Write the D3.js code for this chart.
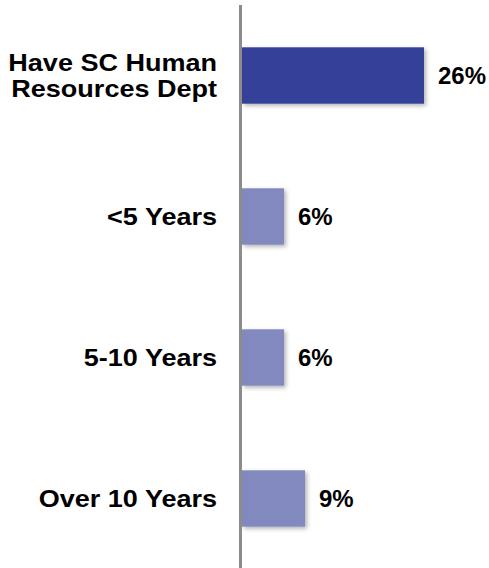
<!DOCTYPE html>
<html>
<head>
<meta charset="utf-8">
<script src="https://cdn.jsdelivr.net/npm/d3@7"></script>
<style>
  body { margin: 0; background: #fff; }
  text { font-family: "Liberation Sans", Arial, sans-serif; font-weight: bold; fill: #000; }
</style>
</head>
<body>
<svg id="chart" width="489" height="568"></svg>
<script>
// chart data
var categories = [["Have SC Human", "Resources Dept"], ["<5 Years"], ["5-10 Years"], ["Over 10 Years"]];
var values = [26, 6, 6, 9];
var valueLabels = ["26%", "6%", "6%", "9%"];

var svg = d3.select("#chart"),
    width = +svg.attr("width"),
    height = +svg.attr("height");

var axisX = 240.5;

var defs = svg.append("defs");
var f = defs.append("filter")
    .attr("id", "shadow")
    .attr("x", "-10%").attr("y", "-20%")
    .attr("width", "130%").attr("height", "150%");
f.append("feDropShadow")
    .attr("dx", 2).attr("dy", 2)
    .attr("stdDeviation", 2)
    .attr("flood-color", "#000")
    .attr("flood-opacity", 0.3);

var y = d3.scaleBand()
    .domain(d3.range(categories.length))
    .range([5, 569])
    .paddingInner(0.6)
    .paddingOuter(0.3);

var x = d3.scaleLinear()
    .domain([0, 30])
    .range([axisX + 1.5, axisX + 1.5 + 210]);

function barColor(i) { return i === 0 ? "#343f98" : "#8189be"; }

svg.append("g")
  .selectAll("rect")
  .data(values)
  .enter().append("rect")
    .attr("x", x(0))
    .attr("y", function(d, i) { return y(i); })
    .attr("width", function(d) { return x(d) - x(0); })
    .attr("height", y.bandwidth())
    .attr("fill", function(d, i) { return barColor(i); })
    .attr("filter", "url(#shadow)");

// vertical axis line
svg.append("line")
    .attr("x1", axisX).attr("x2", axisX)
    .attr("y1", 5).attr("y2", height)
    .attr("stroke", "#8c8c8c")
    .attr("stroke-width", 3);

// value labels
svg.append("g")
  .selectAll("text")
  .data(values)
  .enter().append("text")
    .attr("x", function(d) { return x(d) + 14; })
    .attr("y", function(d, i) { return y(i) + y.bandwidth() / 2 + 8.5; })
    .style("font-size", "24px")
    .text(function(d, i) { return valueLabels[i]; });

// category labels, a bit wider than the font
var labelRight = 217, stretch = 1.15, lineGap = 27;
var cat = svg.append("g")
  .selectAll("text")
  .data(categories)
  .enter().append("text")
    .attr("transform", function(d, i) {
      var cy = y(i) + y.bandwidth() / 2 + 8.5 - (d.length - 1) * lineGap / 2;
      return "translate(" + labelRight + "," + cy + ") scale(" + stretch + ",1)";
    })
    .attr("text-anchor", "end")
    .style("font-size", "23.5px");

cat.selectAll("tspan")
  .data(function(d) { return d; })
  .enter().append("tspan")
    .attr("x", 0)
    .attr("y", function(d, j) { return j * lineGap; })
    .text(function(d) { return d; });
</script>
</body>
</html>
